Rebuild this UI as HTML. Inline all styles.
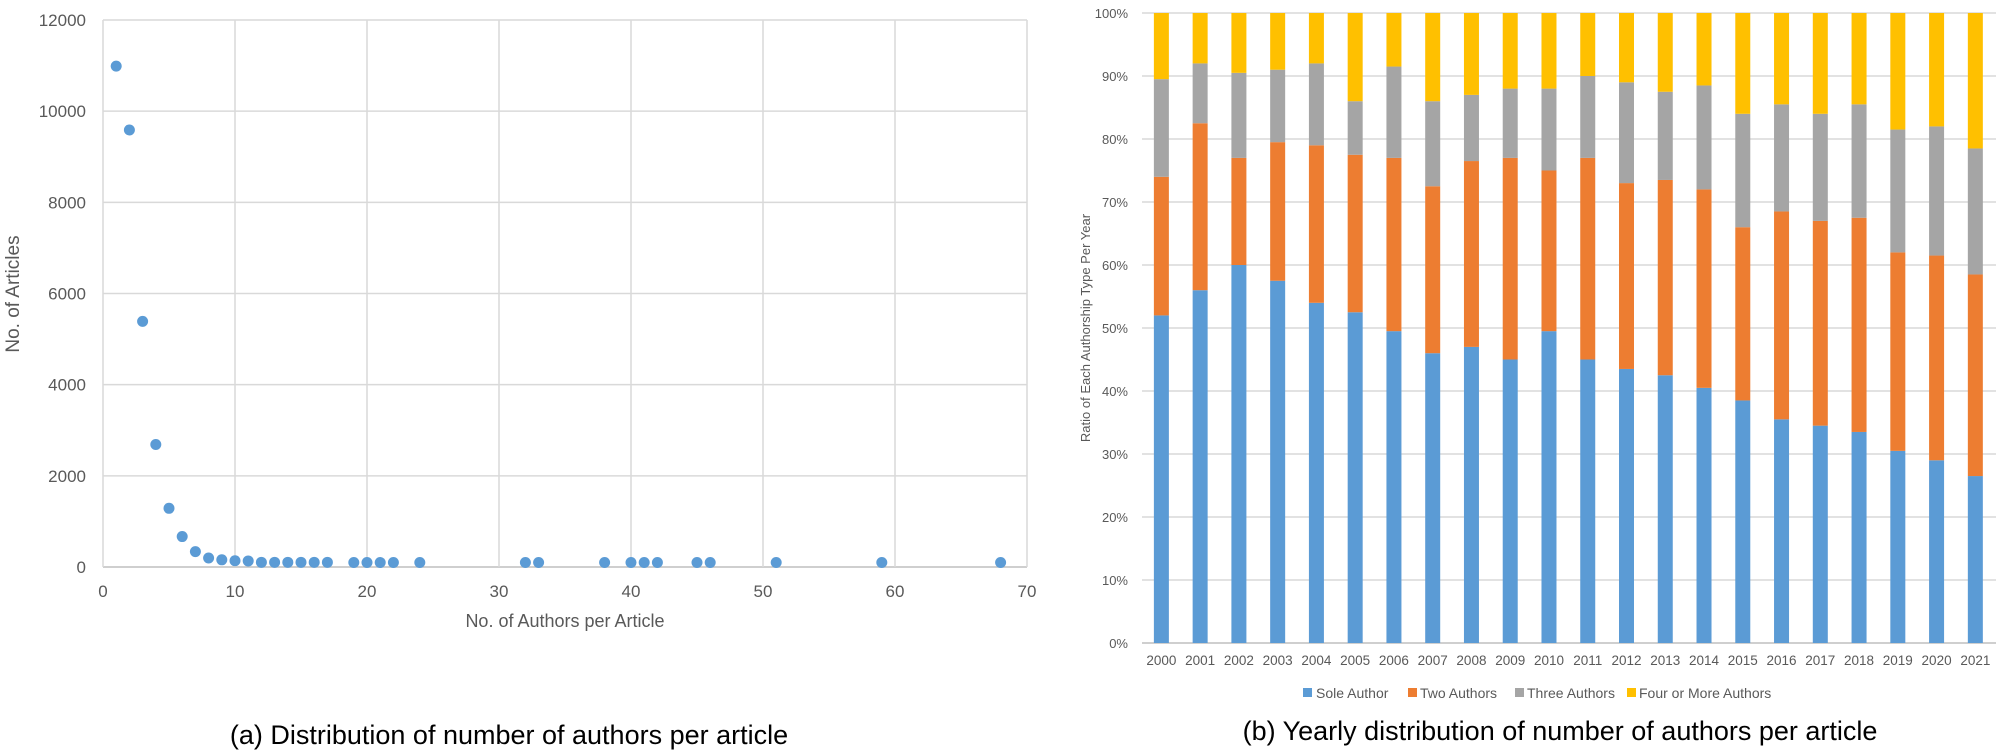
<!DOCTYPE html>
<html><head><meta charset="utf-8"><style>
html,body{margin:0;padding:0;background:#fff;}
svg{display:block;font-family:"Liberation Sans",sans-serif;}
</style></head><body>
<svg id="s" width="2000" height="753" viewBox="0 0 2000 753" xmlns="http://www.w3.org/2000/svg">
<rect width="2000" height="753" fill="#fff"/>
<g id="L"></g>
<g id="R"></g>
<text x="19" y="294" transform="rotate(-90 19 294)" text-anchor="middle" font-size="19" fill="#595959">No. of Articles</text>
<text x="565" y="627" text-anchor="middle" font-size="18" fill="#595959">No. of Authors per Article</text>
<text x="509" y="744" text-anchor="middle" font-size="27" fill="#000">(a) Distribution of number of authors per article</text>
<text x="1090" y="328" transform="rotate(-90 1090 328)" text-anchor="middle" font-size="13" fill="#595959">Ratio of Each Authorship Type Per Year</text>
<text x="1560" y="740" text-anchor="middle" font-size="27" fill="#000">(b) Yearly distribution of number of authors per article</text>
<rect x="1303" y="688" width="9" height="9" fill="#5b9bd5"/><text x="1316" y="698" font-size="14" fill="#595959">Sole Author</text>
<rect x="1408" y="688" width="9" height="9" fill="#ed7d31"/><text x="1420" y="698" font-size="14" fill="#595959">Two Authors</text>
<rect x="1515" y="688" width="9" height="9" fill="#a5a5a5"/><text x="1527" y="698" font-size="14" fill="#595959">Three Authors</text>
<rect x="1627" y="688" width="9" height="9" fill="#ffc000"/><text x="1639" y="698" font-size="14" fill="#595959">Four or More Authors</text>
</svg>
<script>
var NS="http://www.w3.org/2000/svg";
function el(p,t,a,txt){var e=document.createElementNS(NS,t);for(var k in a)e.setAttribute(k,a[k]);if(txt!==undefined)e.textContent=txt;p.appendChild(e);return e;}
var L=document.getElementById("L");
var x0=103,xs=13.2,y0=567,ys=(567-20)/12000;
for(var i=0;i<=6;i++){var y=y0-i*2000*ys;
 el(L,"line",{x1:x0,x2:x0+70*xs,y1:y,y2:y,stroke:i==0?"#bfbfbf":"#d9d9d9","stroke-width":1.5});
 el(L,"text",{x:86,y:y+6,"text-anchor":"end","font-size":17,fill:"#595959"},String(i*2000));}
for(var i=0;i<=7;i++){var x=x0+i*10*xs;
 el(L,"line",{x1:x,x2:x,y1:20,y2:y0,stroke:"#d9d9d9","stroke-width":1.5});
 el(L,"text",{x:x,y:597,"text-anchor":"middle","font-size":17,fill:"#595959"},String(i*10));}
var pts=[[1,10900],[2,9500],[3,5300],[4,2600],[5,1200],[6,580],[7,250],[8,110],[9,70],[10,50],[11,45],[12,15],[13,15],[14,15],[15,15],[16,15],[17,15],[19,10],[20,10],[21,10],[22,10],[24,10],[32,10],[33,10],[38,10],[40,10],[41,10],[42,10],[45,10],[46,10],[51,10],[59,10],[68,10]];
pts.forEach(function(p){el(L,"circle",{cx:x0+p[0]*xs,cy:y0-p[1]*ys-4,r:5.5,fill:"#5b9bd5"});});
var R=document.getElementById("R");
var bx=1142,bw=38.76,by0=643,bh=630;
for(var i=0;i<=10;i++){var y=by0-i*bh/10;
 el(R,"line",{x1:bx,x2:1996,y1:y,y2:y,stroke:i==0?"#bfbfbf":"#d9d9d9","stroke-width":1.5});
 el(R,"text",{x:1128,y:y+5,"text-anchor":"end","font-size":13,fill:"#595959"},(i*10)+"%");}
var d=[[52,74,89.5],[56,82.5,92],[60,77,90.5],[57.5,79.5,91],[54,79,92],[52.5,77.5,86],[49.5,77,91.5],[46,72.5,86],[47,76.5,87],[45,77,88],[49.5,75,88],[45,77,90],[43.5,73,89],[42.5,73.5,87.5],[40.5,72,88.5],[38.5,66,84],[35.5,68.5,85.5],[34.5,67,84],[33.5,67.5,85.5],[30.5,62,81.5],[29,61.5,82],[26.5,58.5,78.5]];
var col=["#5b9bd5","#ed7d31","#a5a5a5","#ffc000"];
d.forEach(function(v,i){var cx=bx+bw*(i+0.5);var c=[0,v[0],v[1],v[2],100];
 for(var k=0;k<4;k++){var yt=by0-c[k+1]*bh/100,yb=by0-c[k]*bh/100;
  el(R,"rect",{x:cx-7.5,y:yt,width:15,height:yb-yt,fill:col[k]});}
 el(R,"text",{x:cx,y:665,"text-anchor":"middle","font-size":13.5,fill:"#595959"},String(2000+i));});
</script>
</body></html>
